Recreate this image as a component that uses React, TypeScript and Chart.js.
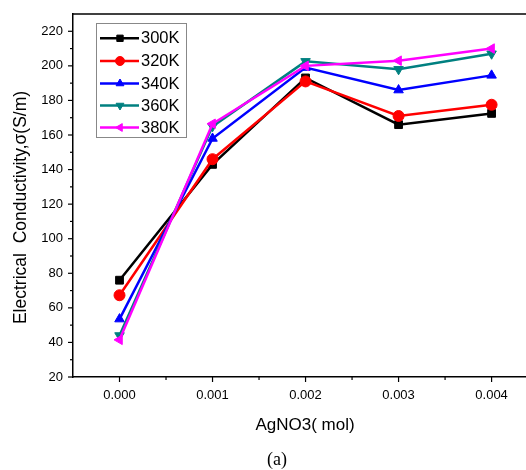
import React, { useEffect, useRef } from "react";
import { Chart, registerables } from "chart.js";
import { drawPoint } from "chart.js/helpers";

Chart.register(...registerables);

const concentrations = [0, 0.001, 0.002, 0.003, 0.004];
const seriesNames = ["300K", "320K", "340K", "360K", "380K"];
const k300 = [76, 143, 193, 166, 172.5];
const k320 = [67.3, 146, 191, 171, 177.5];
const k340 = [53.5, 158, 199, 186, 194.5];
const k360 = [44, 165, 202.6, 198, 207];
const k380 = [41.5, 166.5, 200, 203, 210];
const seriesValues = [k300, k320, k340, k360, k380];
const seriesColors = ["#000000", "#ff0000", "#0000ff", "#008080", "#ff00ff"];
const seriesMarkers = ["rect", "circle", "triangle", "triangle", "triangle"];
const seriesRotation = [0, 0, 0, 180, 270];
const xTickValues = [0, 0.0005, 0.001, 0.0015, 0.002, 0.0025, 0.003, 0.0035, 0.004];
const xLabelTicks = [0, 0.001, 0.002, 0.003, 0.004];
const yTickValues = [20, 30, 40, 50, 60, 70, 80, 90, 100, 110, 120, 130, 140, 150, 160, 170, 180, 190, 200, 210, 220];
const yTitle = "Electrical  Conductivity,\u03c3(S/m)";
const xTitle = "AgNO3( mol)";
const caption = "(a)";

const SANS = '"Liberation Sans", Arial, sans-serif';

const isMajorX = (v: number) => xLabelTicks.some((t) => Math.abs(t - v) < 1e-9);
const isMajorY = (v: number) => Math.round(v) % 20 === 0;

const zeroPadding = (s: any) => {
  s.paddingLeft = 0;
  s.paddingRight = 0;
  s.paddingTop = 0;
  s.paddingBottom = 0;
};

const decorPlugin = {
  id: "decor",
  afterDraw(chart: any) {
    const ctx = chart.ctx;
    const area = chart.chartArea;
    const xs = chart.scales.x;
    const ys = chart.scales.y;
    ctx.save();
    // top border
    ctx.strokeStyle = "#000";
    ctx.lineWidth = 1.5;
    ctx.beginPath();
    ctx.moveTo(area.left, area.top);
    ctx.lineTo(area.right, area.top);
    ctx.stroke();
    // ticks
    ctx.lineWidth = 1.2;
    xs.ticks.forEach((t: any) => {
      const px = xs.getPixelForValue(t.value);
      const len = isMajorX(t.value) ? 5 : 3;
      ctx.beginPath();
      ctx.moveTo(px, area.bottom);
      ctx.lineTo(px, area.bottom + len);
      ctx.stroke();
    });
    ys.ticks.forEach((t: any) => {
      const py = ys.getPixelForValue(t.value);
      const len = isMajorY(t.value) ? 5 : 3;
      ctx.beginPath();
      ctx.moveTo(area.left, py);
      ctx.lineTo(area.left - len, py);
      ctx.stroke();
    });
    // axis titles
    ctx.fillStyle = "#000";
    ctx.font = "17px " + SANS;
    ctx.textAlign = "center";
    ctx.textBaseline = "middle";
    ctx.fillText(xTitle, 305, 425);
    ctx.save();
    ctx.translate(21, 207.5);
    ctx.rotate(-Math.PI / 2);
    ctx.font = "17.5px " + SANS;
    ctx.fillText(yTitle, 0, 0);
    ctx.restore();
    // caption
    ctx.font = '18px "Liberation Serif", "Times New Roman", serif';
    ctx.fillText(caption, 277, 460);
    // legend
    ctx.strokeStyle = "#888";
    ctx.lineWidth = 1;
    ctx.strokeRect(96.5, 23.5, 90, 114);
    const rows = [38.3, 61, 83.5, 105.5, 127.5];
    chart.data.datasets.forEach((ds: any, i: number) => {
      const y = rows[i];
      ctx.strokeStyle = ds.borderColor;
      ctx.lineWidth = 2.5;
      ctx.beginPath();
      ctx.moveTo(100, y);
      ctx.lineTo(139, y);
      ctx.stroke();
      ctx.fillStyle = ds.borderColor;
      ctx.strokeStyle = ds.borderColor;
      ctx.lineWidth = 1;
      drawPoint(ctx, { pointStyle: ds.pointStyle, rotation: ds.rotation, radius: 4.5, borderWidth: 1 }, 120, y);
      ctx.fillStyle = "#000";
      ctx.font = "16.5px " + SANS;
      ctx.textAlign = "left";
      ctx.textBaseline = "middle";
      ctx.fillText(ds.label, 141, y + 0.5);
    });
    ctx.restore();
  },
};

export default function App() {
  const ref = useRef<HTMLCanvasElement>(null);
  useEffect(() => {
    if (!ref.current) return;
    const datasets = seriesNames.map((name, i) => ({
      label: name,
      data: concentrations.map((c, j) => ({ x: c, y: seriesValues[i][j] })),
      borderColor: seriesColors[i],
      backgroundColor: seriesColors[i],
      borderWidth: 2.5,
      pointStyle: seriesMarkers[i],
      rotation: seriesRotation[i],
      pointRadius: 5.5,
      pointBorderWidth: 1,
      tension: 0,
      order: 4 - i,
    }));
    const chart = new Chart(ref.current, {
      type: "line",
      data: { datasets },
      options: {
        responsive: false,
        animation: false,
        layout: { autoPadding: false, padding: { top: 14, left: 0, right: 0, bottom: 0 } },
        plugins: { legend: { display: false }, tooltip: { enabled: false }, title: { display: false } },
        scales: {
          x: {
            type: "linear",
            min: -0.0005,
            max: 0.00437,
            afterBuildTicks: (s: any) => {
              s.ticks = xTickValues.map((v) => ({ value: v }));
            },
            afterFit: (s: any) => {
              s.height = 93;
              zeroPadding(s);
            },
            grid: { display: true, drawOnChartArea: false, drawTicks: false },
            border: { display: true, color: "#000", width: 1.5 },
            ticks: {
              padding: 11,
              color: "#000",
              font: { family: SANS, size: 13 },
              maxRotation: 0,
              autoSkip: false,
              callback: (v: any) => (isMajorX(Number(v)) ? Number(v).toFixed(3) : ""),
            },
          },
          y: {
            type: "linear",
            min: 20,
            max: 230,
            afterBuildTicks: (s: any) => {
              s.ticks = yTickValues.map((v) => ({ value: v }));
            },
            afterFit: (s: any) => {
              s.width = 73;
              zeroPadding(s);
            },
            grid: { display: true, drawOnChartArea: false, drawTicks: false },
            border: { display: true, color: "#000", width: 1.5 },
            ticks: {
              padding: 10,
              color: "#000",
              font: { family: SANS, size: 13 },
              autoSkip: false,
              callback: (v: any) => (isMajorY(Number(v)) ? String(v) : ""),
            },
          },
        },
      },
      plugins: [decorPlugin],
    } as any);
    return () => chart.destroy();
  }, []);
  return (
    <div style={{ position: "absolute", left: 0, top: 0, width: 526, height: 470, background: "#fff" }}>
      <canvas ref={ref} width={526} height={470} style={{ width: 526, height: 470, display: "block" }} />
    </div>
  );
}
